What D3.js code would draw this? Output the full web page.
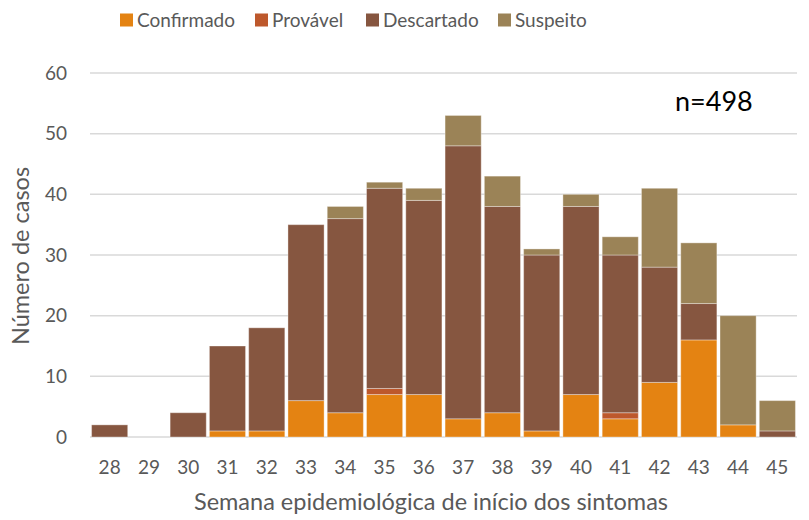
<!DOCTYPE html>
<html><head><meta charset="utf-8">
<script src="https://cdn.jsdelivr.net/npm/d3@7"></script>
<style>body{margin:0;background:#fff;} svg{display:block;font-family:Lato,"Open Sans",sans-serif;}</style>
</head><body>
<svg id="chart" width="809" height="520"></svg>
<script>
const weeks = ["28","29","30","31","32","33","34","35","36","37","38","39","40","41","42","43","44","45"];
const confirmado = [0,0,0,1,1,6,4,7,7,3,4,1,7,3,9,16,2,0];
const provavel   = [0,0,0,0,0,0,0,1,0,0,0,0,0,1,0,0,0,0];
const descartado = [2,0,4,14,17,29,32,33,32,45,34,29,31,26,19,6,0,1];
const suspeito   = [0,0,0,0,0,0,2,1,2,5,5,1,2,3,13,10,18,5];
const seriesNames = ["Confirmado","Provável","Descartado","Suspeito"];
const seriesColors = ["#E48312","#BD582C","#865640","#9B8357"];
const yTicks = [0,10,20,30,40,50,60];

const svg = d3.select("#chart");
const m = {left:90, right:12, top:73, bottom:83};
const W = 809, H = 520;
const x = d3.scaleBand().domain(weeks).range([m.left, W - m.right]).paddingInner(0.08).paddingOuter(0.04);
const y = d3.scaleLinear().domain([0,60]).range([H - m.bottom, m.top]);

// gridlines
svg.append("g").selectAll("line").data(yTicks).join("line")
  .attr("x1", m.left).attr("x2", W - m.right)
  .attr("y1", d=>y(d)).attr("y2", d=>y(d))
  .attr("stroke","#d9d9d9").attr("stroke-width",1.5);

const table = weeks.map((w,i)=>({week:w, Confirmado:confirmado[i], "Provável":provavel[i], Descartado:descartado[i], Suspeito:suspeito[i]}));
const stack = d3.stack().keys(seriesNames)(table);

svg.append("g").selectAll("g").data(stack).join("g")
  .attr("fill",(d,i)=>seriesColors[i])
  .selectAll("rect").data(d=>d.filter(s=>s[1]-s[0]>0)).join("rect")
  .attr("x", d=>x(d.data.week)).attr("width", x.bandwidth())
  .attr("y", d=>y(d[1])).attr("height", d=>y(d[0])-y(d[1]))
  .attr("stroke","rgba(255,255,255,0.35)").attr("stroke-width",1);

// y axis labels
svg.append("g").selectAll("text").data(yTicks).join("text")
  .attr("x", 67).attr("y", d=>y(d)).attr("dy","0.35em")
  .attr("text-anchor","end").attr("font-size",19).attr("fill","#595959")
  .text(d=>d);

// x axis labels
svg.append("g").selectAll("text").data(weeks).join("text")
  .attr("x", d=>x(d)+x.bandwidth()/2).attr("y", 467).attr("dy","0.35em")
  .attr("text-anchor","middle").attr("font-size",19).attr("fill","#595959")
  .text(d=>d);

// axis titles
svg.append("text").attr("x", 431).attr("y", 502).attr("dy","0.35em")
  .attr("text-anchor","middle").attr("font-size",23.5).attr("fill","#595959")
  .text("Semana epidemiológica de início dos sintomas");
svg.append("text").attr("transform","translate(21,256) rotate(-90)").attr("dy","0.35em")
  .attr("text-anchor","middle").attr("font-size",23.5).attr("fill","#595959")
  .text("Número de casos");

// annotation
svg.append("text").attr("x", 675).attr("y", 102).attr("dy","0.35em")
  .attr("font-size",27).attr("fill","#000").text("n=498");

// legend
const legX = [120, 255, 366, 498];
const leg = svg.append("g").selectAll("g").data(seriesNames).join("g")
  .attr("transform",(d,i)=>"translate("+legX[i]+",20)");
leg.append("rect").attr("x",0).attr("y",-6.5).attr("width",13).attr("height",13)
  .attr("fill",(d,i)=>seriesColors[i]);
leg.append("text").attr("x",17).attr("y",0).attr("dy","0.35em")
  .attr("font-size",19).attr("fill","#595959").text(d=>d);
</script>
</body></html>
